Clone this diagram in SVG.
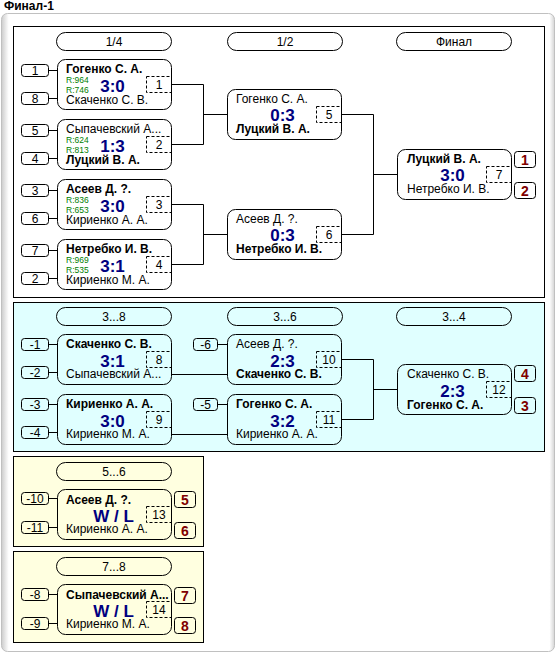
<svg xmlns="http://www.w3.org/2000/svg" width="557" height="654" viewBox="0 0 557 654">
<style>
text{font-family:"Liberation Sans",Arial,sans-serif;font-size:12px;fill:#000}
.t{font-weight:bold}
.b{fill:none;stroke:#000;stroke-width:1}
.hd{fill:none;stroke:#000;stroke-width:1}
.dn{fill:none;stroke:#000;stroke-width:1;stroke-dasharray:3,2}
.r{font-size:8.5px;fill:#008000}
.sc{font-size:17px;font-weight:bold;fill:#000080;text-anchor:middle}
.c{text-anchor:middle}
.pl{font-size:14px;font-weight:bold;fill:#800000;text-anchor:middle}
.ln{fill:none;stroke:#000;stroke-width:1}
</style>
<defs>
<linearGradient id="fr" gradientUnits="userSpaceOnUse" x1="1" y1="0" x2="555" y2="0">
<stop offset="0" stop-color="#c8c8c8"/><stop offset="0.014" stop-color="#ffffff"/><stop offset="0.99" stop-color="#ffffff"/><stop offset="1" stop-color="#d0d0d0"/>
</linearGradient>
</defs>
<rect width="557" height="654" fill="#fff"/>
<text x="4" y="10" class="t">Финал-1</text>
<rect x="1.5" y="13.5" width="553" height="638" rx="6" fill="url(#fr)" stroke="#c0c0c0"/>

<g id="sections">
<rect x="13.5" y="26.5" width="531" height="271" fill="#fff" stroke="#000"/>
<rect x="13.5" y="302.5" width="531" height="149" fill="#e0ffff" stroke="#000"/>
<rect x="13.5" y="456.5" width="190" height="90" fill="#ffffe0" stroke="#000"/>
<rect x="13.5" y="551.5" width="190" height="91" fill="#ffffe0" stroke="#000"/>
</g>

<g id="headers">
<rect class="hd" x="56.5" y="32.5" width="115" height="18" rx="9"/><text class="c" x="114" y="46">1/4</text>
<rect class="hd" x="227.5" y="32.5" width="115" height="18" rx="9"/><text class="c" x="285" y="46">1/2</text>
<rect class="hd" x="396.5" y="32.5" width="115" height="18" rx="9"/><text class="c" x="454" y="46">Финал</text>
<rect class="hd" x="56.5" y="307.5" width="115" height="18" rx="9"/><text class="c" x="114" y="321">3...8</text>
<rect class="hd" x="227.5" y="307.5" width="115" height="18" rx="9"/><text class="c" x="285" y="321">3...6</text>
<rect class="hd" x="396.5" y="307.5" width="115" height="18" rx="9"/><text class="c" x="454" y="321">3...4</text>
<rect class="hd" x="56.5" y="462.5" width="115" height="18" rx="9"/><text class="c" x="114" y="476">5...6</text>
<rect class="hd" x="56.5" y="557.5" width="115" height="18" rx="9"/><text class="c" x="114" y="571">7...8</text>
</g>

<g id="connectors">
<path class="ln" d="M48.5 70.5H57.5M48.5 98.5H57.5M48.5 130.5H57.5M48.5 158.5H57.5M48.5 190.5H57.5M48.5 218.5H57.5M48.5 250.5H57.5M48.5 278.5H57.5"/>
<path class="ln" d="M171.5 84.5H203.5V144.5H171.5M203.5 114.5H227.5"/>
<path class="ln" d="M171.5 204.5H203.5V264.5H171.5M203.5 234.5H227.5"/>
<path class="ln" d="M341.5 114.5H373.5V234.5H341.5M373.5 174.5H397.5"/>
<path class="ln" d="M48.5 344.5H57.5M48.5 372.5H57.5M48.5 404.5H57.5M48.5 432.5H57.5"/>
<path class="ln" d="M217.5 344.5H227.5M217.5 404.5H227.5"/>
<path class="ln" d="M171.5 374.5H227.5M171.5 434.5H227.5"/>
<path class="ln" d="M341.5 359.5H373.5V419.5H341.5M373.5 389.5H397.5"/>
<path class="ln" d="M48.5 498.5H57.5M48.5 527.5H57.5M48.5 594.5H57.5M48.5 623.5H57.5"/>
</g>

<g id="seeds">
<rect class="b" x="21.5" y="64.5" width="27" height="12" rx="3"/><text class="c" x="35" y="75">1</text>
<rect class="b" x="21.5" y="92.5" width="27" height="12" rx="3"/><text class="c" x="35" y="103">8</text>
<rect class="b" x="21.5" y="124.5" width="27" height="12" rx="3"/><text class="c" x="35" y="135">5</text>
<rect class="b" x="21.5" y="152.5" width="27" height="12" rx="3"/><text class="c" x="35" y="163">4</text>
<rect class="b" x="21.5" y="184.5" width="27" height="12" rx="3"/><text class="c" x="35" y="195">3</text>
<rect class="b" x="21.5" y="212.5" width="27" height="12" rx="3"/><text class="c" x="35" y="223">6</text>
<rect class="b" x="21.5" y="244.5" width="27" height="12" rx="3"/><text class="c" x="35" y="255">7</text>
<rect class="b" x="21.5" y="272.5" width="27" height="12" rx="3"/><text class="c" x="35" y="283">2</text>
<rect class="b" x="21.5" y="338.5" width="27" height="12" rx="3"/><text class="c" x="35" y="349">-1</text>
<rect class="b" x="21.5" y="366.5" width="27" height="12" rx="3"/><text class="c" x="35" y="377">-2</text>
<rect class="b" x="21.5" y="398.5" width="27" height="12" rx="3"/><text class="c" x="35" y="409">-3</text>
<rect class="b" x="21.5" y="426.5" width="27" height="12" rx="3"/><text class="c" x="35" y="437">-4</text>
<rect class="b" x="193.5" y="338.5" width="24" height="12" rx="3"/><text class="c" x="205.5" y="349">-6</text>
<rect class="b" x="193.5" y="398.5" width="24" height="12" rx="3"/><text class="c" x="205.5" y="409">-5</text>
<rect class="b" x="21.5" y="492.5" width="27" height="12" rx="3"/><text class="c" x="35" y="503">-10</text>
<rect class="b" x="21.5" y="521.5" width="27" height="12" rx="3"/><text class="c" x="35" y="532">-11</text>
<rect class="b" x="21.5" y="588.5" width="27" height="12" rx="3"/><text class="c" x="35" y="599">-8</text>
<rect class="b" x="21.5" y="617.5" width="27" height="12" rx="3"/><text class="c" x="35" y="628">-9</text>
</g>

<g id="places">
<rect class="b" x="514.5" y="151.5" width="21" height="16" rx="3"/><text class="pl" x="525" y="165">1</text>
<rect class="b" x="514.5" y="182.5" width="21" height="16" rx="3"/><text class="pl" x="525" y="196">2</text>
<rect class="b" x="514.5" y="365.5" width="21" height="16" rx="3"/><text class="pl" x="525" y="379">4</text>
<rect class="b" x="514.5" y="397.5" width="21" height="16" rx="3"/><text class="pl" x="525" y="411">3</text>
<rect class="b" x="174.5" y="491.5" width="21" height="16" rx="3"/><text class="pl" x="185" y="505">5</text>
<rect class="b" x="174.5" y="522.5" width="21" height="16" rx="3"/><text class="pl" x="185" y="536">6</text>
<rect class="b" x="174.5" y="587.5" width="21" height="16" rx="3"/><text class="pl" x="185" y="601">7</text>
<rect class="b" x="174.5" y="617.5" width="21" height="16" rx="3"/><text class="pl" x="185" y="631">8</text>
</g>

<g id="m1" transform="translate(57,59)">
<rect class="b" x="0.5" y="0.5" width="114" height="50" rx="8"/>
<text class="t" x="9" y="13.5">Гогенко С. А.</text>
<text class="r" x="9" y="23.5">R:964</text><text class="r" x="9" y="33.5">R:746</text>
<text class="sc" x="55.5" y="33">3:0</text>
<text x="9" y="44.5">Скаченко С. В.</text>
<rect class="dn" x="89.5" y="17.5" width="25" height="16"/><text class="c" x="102" y="30">1</text>
</g>
<g id="m2" transform="translate(57,119)">
<rect class="b" x="0.5" y="0.5" width="114" height="50" rx="8"/>
<text x="9" y="13.5">Сыпачевский А...</text>
<text class="r" x="9" y="23.5">R:624</text><text class="r" x="9" y="33.5">R:813</text>
<text class="sc" x="55.5" y="33">1:3</text>
<text class="t" x="9" y="44.5">Луцкий В. А.</text>
<rect class="dn" x="89.5" y="17.5" width="25" height="16"/><text class="c" x="102" y="30">2</text>
</g>
<g id="m3" transform="translate(57,179)">
<rect class="b" x="0.5" y="0.5" width="114" height="50" rx="8"/>
<text class="t" x="9" y="13.5">Асеев Д. ?.</text>
<text class="r" x="9" y="23.5">R:836</text><text class="r" x="9" y="33.5">R:653</text>
<text class="sc" x="55.5" y="33">3:0</text>
<text x="9" y="44.5">Кириенко А. А.</text>
<rect class="dn" x="89.5" y="17.5" width="25" height="16"/><text class="c" x="102" y="30">3</text>
</g>
<g id="m4" transform="translate(57,239)">
<rect class="b" x="0.5" y="0.5" width="114" height="50" rx="8"/>
<text class="t" x="9" y="13.5">Нетребко И. В.</text>
<text class="r" x="9" y="23.5">R:969</text><text class="r" x="9" y="33.5">R:535</text>
<text class="sc" x="55.5" y="33">3:1</text>
<text x="9" y="44.5">Кириенко М. А.</text>
<rect class="dn" x="89.5" y="17.5" width="25" height="16"/><text class="c" x="102" y="30">4</text>
</g>
<g id="m5" transform="translate(227,89)">
<rect class="b" x="0.5" y="0.5" width="114" height="50" rx="8"/>
<text x="9" y="14">Гогенко С. А.</text>
<text class="sc" x="55.5" y="32">0:3</text>
<text class="t" x="9" y="44">Луцкий В. А.</text>
<rect class="dn" x="89.5" y="17.5" width="25" height="16"/><text class="c" x="102" y="30">5</text>
</g>
<g id="m6" transform="translate(227,209)">
<rect class="b" x="0.5" y="0.5" width="114" height="50" rx="8"/>
<text x="9" y="14">Асеев Д. ?.</text>
<text class="sc" x="55.5" y="32">0:3</text>
<text class="t" x="9" y="44">Нетребко И. В.</text>
<rect class="dn" x="89.5" y="17.5" width="25" height="16"/><text class="c" x="102" y="30">6</text>
</g>
<g id="m7" transform="translate(397,149)">
<rect class="b" x="0.5" y="0.5" width="114" height="50" rx="8"/>
<text class="t" x="10" y="14">Луцкий В. А.</text>
<text class="sc" x="55.5" y="32">3:0</text>
<text x="10" y="44">Нетребко И. В.</text>
<rect class="dn" x="89.5" y="17.5" width="25" height="16"/><text class="c" x="102" y="30">7</text>
</g>
<g id="m8" transform="translate(57,334)">
<rect class="b" x="0.5" y="0.5" width="114" height="50" rx="8"/>
<text class="t" x="9" y="14">Скаченко С. В.</text>
<text class="sc" x="55.5" y="33">3:1</text>
<text x="9" y="44">Сыпачевский А...</text>
<rect class="dn" x="89.5" y="17.5" width="25" height="16"/><text class="c" x="102" y="30">8</text>
</g>
<g id="m9" transform="translate(57,394)">
<rect class="b" x="0.5" y="0.5" width="114" height="50" rx="8"/>
<text class="t" x="9" y="14">Кириенко А. А.</text>
<text class="sc" x="55.5" y="33">3:0</text>
<text x="9" y="44">Кириенко М. А.</text>
<rect class="dn" x="89.5" y="17.5" width="25" height="16"/><text class="c" x="102" y="30">9</text>
</g>
<g id="m10" transform="translate(227,334)">
<rect class="b" x="0.5" y="0.5" width="114" height="50" rx="8"/>
<text x="9" y="14">Асеев Д. ?.</text>
<text class="sc" x="55.5" y="33">2:3</text>
<text class="t" x="9" y="44">Скаченко С. В.</text>
<rect class="dn" x="89.5" y="17.5" width="25" height="16"/><text class="c" x="102" y="30">10</text>
</g>
<g id="m11" transform="translate(227,394)">
<rect class="b" x="0.5" y="0.5" width="114" height="50" rx="8"/>
<text class="t" x="9" y="14">Гогенко С. А.</text>
<text class="sc" x="55.5" y="33">3:2</text>
<text x="9" y="44">Кириенко А. А.</text>
<rect class="dn" x="89.5" y="17.5" width="25" height="16"/><text class="c" x="102" y="30">11</text>
</g>
<g id="m12" transform="translate(397,364)">
<rect class="b" x="0.5" y="0.5" width="114" height="50" rx="8"/>
<text x="10" y="14">Скаченко С. В.</text>
<text class="sc" x="55.5" y="33">2:3</text>
<text class="t" x="10" y="45">Гогенко С. А.</text>
<rect class="dn" x="89.5" y="17.5" width="25" height="16"/><text class="c" x="102" y="30">12</text>
</g>
<g id="m13" transform="translate(57,489)">
<rect class="b" x="0.5" y="0.5" width="114" height="50" rx="8"/>
<text class="t" x="9" y="15">Асеев Д. ?.</text>
<text class="sc" x="56.5" y="33">W / L</text>
<text x="9" y="44">Кириенко А. А.</text>
<rect class="dn" x="89.5" y="17.5" width="25" height="16"/><text class="c" x="102" y="30">13</text>
</g>
<g id="m14" transform="translate(57,584)">
<rect class="b" x="0.5" y="0.5" width="114" height="50" rx="8"/>
<text class="t" x="9" y="15">Сыпачевский А...</text>
<text class="sc" x="56.5" y="33">W / L</text>
<text x="9" y="44">Кириенко М. А.</text>
<rect class="dn" x="89.5" y="17.5" width="25" height="16"/><text class="c" x="102" y="30">14</text>
</g>
</svg>
